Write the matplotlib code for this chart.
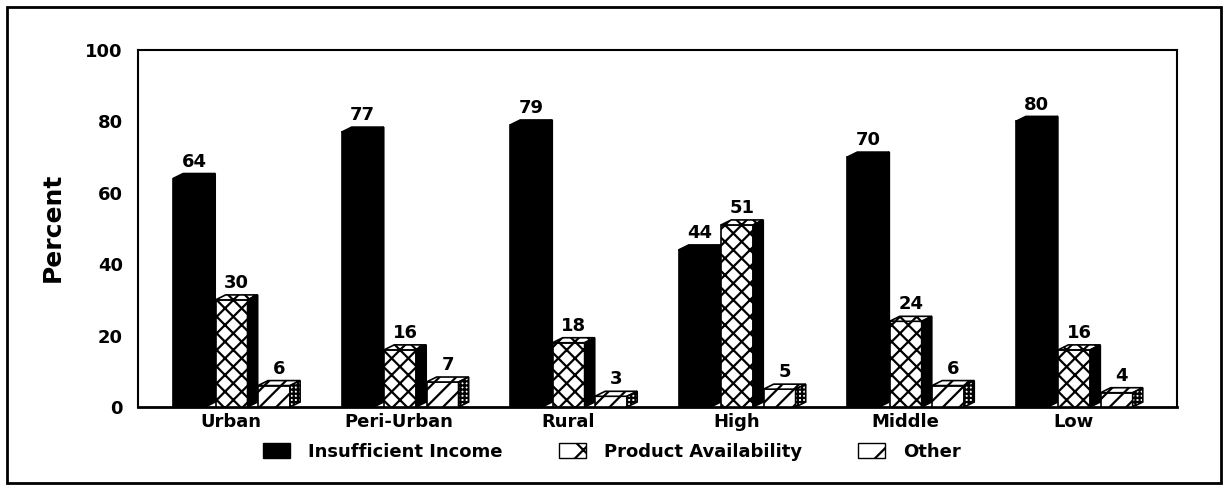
import matplotlib
matplotlib.use('Agg')
import matplotlib.pyplot as plt
from matplotlib.patches import Polygon, Rectangle, Patch

plt.rcParams['font.family'] = ['DejaVu Sans']
plt.rcParams['font.weight'] = 'bold'
plt.rcParams['hatch.linewidth'] = 1.6

################### DATA ###################
categories   = ['Urban', 'Peri-Urban', 'Rural', 'High', 'Middle', 'Low']
insufficient = [64, 77, 79, 44, 70, 80]
product      = [30, 16, 18, 51, 24, 16]
other        = [6, 7, 3, 5, 6, 4]
series_names = ['Insufficient Income', 'Product Availability', 'Other']
y_ticks      = [0, 20, 40, 60, 80, 100]
############## END: DATA ###################

W, H = 1223, 490
fig = plt.figure(figsize=(W / 100, H / 100), dpi=100)
ax = fig.add_axes([138 / W, 1 - 407 / H, (1177 - 138) / W, (407 - 50) / H])

# bar geometry (data units)
front_w = 0.19
slot = 0.252
dx = 0.06
dy = 1.4
group_left = -0.377

# face styles
styles = [
    dict(front=('black', None), top=('black', None), side=('black', None)),
    dict(front=('white', 'xx'), top=('white', 'xx'), side=('black', None)),
    dict(front=('white', '//'), top=('white', '//'), side=('white', '++++')),
]


def draw_3d_bars(values, k):
    st = styles[k]
    xs = [i + group_left + k * slot for i in range(len(values))]
    ax.bar(xs, values, width=front_w, align='edge', color=st['front'][0],
           hatch=st['front'][1], edgecolor='black', linewidth=1.2, zorder=3 + k)
    for x0, h in zip(xs, values):
        x1 = x0 + front_w
        top = Polygon([(x0, h), (x0 + dx, h + dy), (x1 + dx, h + dy), (x1, h)], closed=True,
                      facecolor=st['top'][0], hatch=st['top'][1],
                      edgecolor='black', linewidth=1.2, zorder=3 + k)
        side = Polygon([(x1, 0), (x1 + dx, dy), (x1 + dx, h + dy), (x1, h)], closed=True,
                       facecolor=st['side'][0], hatch=st['side'][1],
                       edgecolor='black', linewidth=1.2, zorder=3 + k)
        ax.add_patch(top)
        ax.add_patch(side)
        ax.text(x0 + (front_w + dx) / 2, h + dy + 0.8, str(h), ha='center', va='bottom',
                fontsize=13, fontweight='bold', zorder=10)


for k, vals in enumerate([insufficient, product, other]):
    draw_3d_bars(vals, k)

ax.set_xlim(-0.585, 5.58)
ax.set_ylim(0, 100)
ax.set_yticks(y_ticks)
ax.set_yticklabels([str(t) for t in y_ticks], fontsize=13, fontweight='bold')
ax.set_xticks([i - 0.035 for i in range(len(categories))])
ax.set_xticklabels(categories, fontsize=13, fontweight='bold')
ax.tick_params(axis='y', length=0, pad=11)
ax.tick_params(axis='x', length=0, pad=4)
for sp in ax.spines.values():
    sp.set_linewidth(1.5)
ax.spines['bottom'].set_linewidth(2)

fig.text(53 / W, 1 - 227 / H, 'Percent', rotation=90, ha='center', va='center',
         fontsize=18, fontweight='bold')

handles = [Patch(facecolor='black', edgecolor='black'),
           Patch(facecolor='white', edgecolor='black', hatch='x'),
           Patch(facecolor='white', edgecolor='black', hatch='/')]
fig.legend(handles, series_names, loc='center', bbox_to_anchor=(612 / W, 1 - 452 / H),
           ncol=3, frameon=False, prop=dict(size=13, weight='bold'),
           handlelength=1.5, handleheight=0.9, columnspacing=3.1, handletextpad=1.0)

# outer frame
fig.patches.append(Rectangle((7 / W, 7 / H), (1221 - 7) / W, (483 - 7) / H,
                             transform=fig.transFigure, fill=False, edgecolor='black',
                             linewidth=2))

fig.savefig('out.png', dpi=100)
